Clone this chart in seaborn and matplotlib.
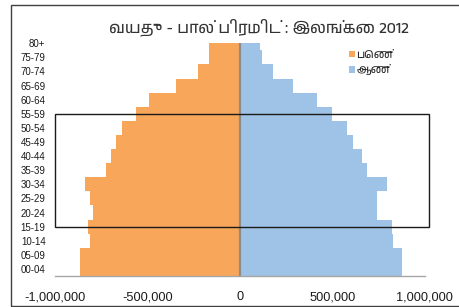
import matplotlib
matplotlib.use('Agg')
import matplotlib.pyplot as plt
import seaborn as sns
import pandas as pd
from matplotlib import font_manager
from matplotlib.ft2font import FT2Font
from matplotlib.patches import Rectangle
from matplotlib.ticker import FuncFormatter

# age groups, top to bottom as in the chart
AGES = ['80+', '75-79', '70-74', '65-69', '60-64', '55-59', '50-54', '45-49', '40-44',
        '35-39', '30-34', '25-29', '20-24', '15-19', '10-14', '05-09', '00-04']
FEMALE = [168000, 168000, 229000, 346000, 491000, 561000, 640000, 670000, 697000,
          724000, 837000, 810000, 794000, 821000, 812000, 866000, 866000]
MALE = [108000, 117000, 180000, 285000, 419000, 500000, 581000, 614000, 659000,
        686000, 794000, 740000, 740000, 821000, 830000, 875000, 875000]
X_TICKS = [-1000000, -500000, 0, 500000, 1000000]

TITLE = 'வயது - பால் பிரமிட் : இலங்கை 2012'
FEMALE_LABEL = 'பெண்'
MALE_LABEL = 'ஆண்'


def tamil_font():
    # look for any installed font that has Tamil glyphs
    for f in font_manager.fontManager.ttflist:
        if 'Tamil' in f.name:
            return f.name
    for f in font_manager.fontManager.ttflist:
        try:
            if ord('வ') in FT2Font(f.fname).get_charmap():
                return f.name
        except Exception:
            pass
    return 'DejaVu Sans'


sns.set_style('white')
tamil = tamil_font()
plt.rcParams['font.family'] = ['Liberation Sans', 'DejaVu Sans']

df = pd.DataFrame({
    'age': AGES * 2,
    'value': [-v for v in FEMALE] + MALE,
    'sex': [FEMALE_LABEL] * len(AGES) + [MALE_LABEL] * len(AGES),
})

fig = plt.figure(figsize=(4.59, 3.07), dpi=100)
ax = fig.add_axes([0.1205, 0.101, 0.8048, 0.758])

sns.barplot(data=df, x='value', y='age', hue='sex', order=AGES,
            hue_order=[FEMALE_LABEL, MALE_LABEL], dodge=False, width=1.0,
            palette=['#F8A65A', '#9FC2E7'], saturation=1, linewidth=0, ax=ax)

ax.set_xlim(-1000000, 1000000)
ax.set_ylim(16.5, 0)
ax.set_xticks(X_TICKS)
ax.xaxis.set_major_formatter(FuncFormatter(lambda v, p: '{:,.0f}'.format(v)))
ax.set_xlabel('')
ax.set_ylabel('')
ax.axvline(0, color='#8C8C8C', lw=1.6)

for s in ['top', 'right', 'left']:
    ax.spines[s].set_visible(False)
ax.spines['bottom'].set_color('#A6A6A6')
ax.spines['bottom'].set_linewidth(1.0)
ax.tick_params(axis='x', direction='out', length=3, width=1, color='#A6A6A6',
               labelsize=9.2, pad=8, labelcolor='#1a1a1a')
ax.tick_params(axis='y', length=0, labelsize=7, pad=7, labelcolor='#1a1a1a')

# highlight box over the working-age groups
ax.add_patch(Rectangle((-1000000, AGES.index('15-19')), 2023000,
                       AGES.index('55-59') - AGES.index('15-19'),
                       fill=False, edgecolor='#1a1a1a', lw=1.0, clip_on=False, zorder=5))

fig.text(0.564, 0.912, TITLE, ha='center', va='center', fontsize=11.5,
         family=[tamil, 'Liberation Sans'], color='#333333')

handles, labels = ax.get_legend_handles_labels()
ax.legend(handles, labels, loc='upper left', bbox_to_anchor=(0.767, 1.015),
          frameon=False, handlelength=0.55, handleheight=0.55, handletextpad=0.15,
          labelspacing=0.4, prop={'family': [tamil, 'DejaVu Sans'], 'size': 8})

# outer chart border
fig.patches.append(Rectangle((10.5 / 459, 1 - 305.5 / 307), 1.0, 300.5 / 307,
                             transform=fig.transFigure, fill=False,
                             edgecolor='#404040', lw=1.0))

fig.savefig('out.png', dpi=100)
